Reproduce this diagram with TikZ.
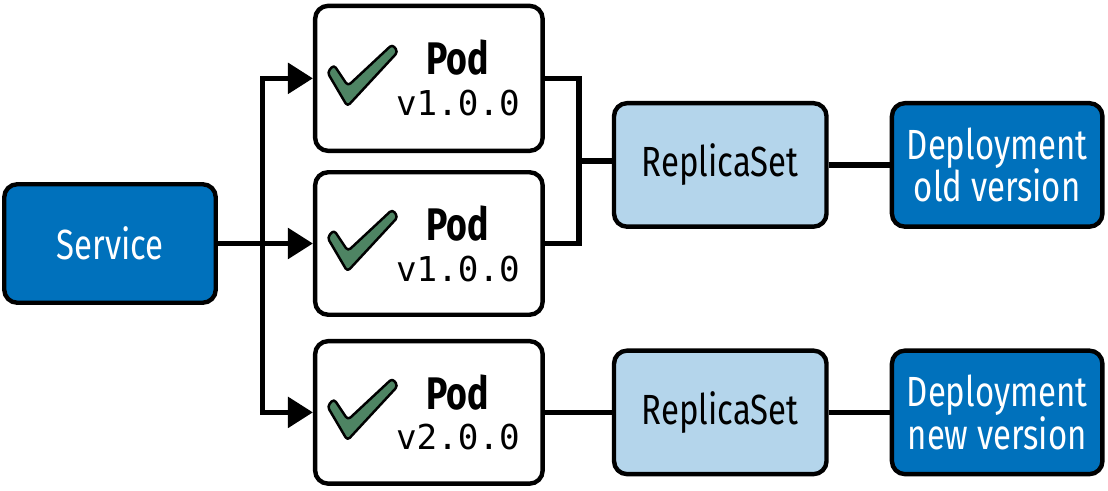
\documentclass[tikz,border=0pt]{standalone}
\usepackage{fontspec}
\setmainfont{Fira Sans}[FakeStretch=0.78]
\setmonofont{DejaVu Sans Mono}
\usepackage{tikz}
\usetikzlibrary{arrows.meta, positioning, calc}
\definecolor{deepblue}{HTML}{0071BC}
\definecolor{paleblue}{HTML}{B4D5EB}
\definecolor{tickgreen}{HTML}{4E8463}
\tikzset{
    basebox/.style={
        rectangle, rounded corners=0.26cm, draw=black,
        line width=2.5pt, align=center,
        font=\fontsize{24pt}{24pt}\selectfont
    },
    bluebox/.style={
        basebox, fill=deepblue, text=white,
        minimum width=4.21cm, minimum height=2.47cm
    },
    podbox/.style={
        basebox, fill=white,
        minimum width=4.55cm, minimum height=2.85cm
    },
    rsbox/.style={
        basebox, fill=paleblue,
        minimum width=4.25cm, minimum height=2.47cm
    },
    podlab/.style={
        align=center, inner sep=0pt,
        font=\fontsize{26pt}{23.3pt}\selectfont\bfseries
    },
    flow/.style={
        -{Triangle[length=0.5cm, width=0.6cm]}, line width=3.1pt
    },
    link/.style={
        line width=3.1pt
    },
    checkmark/.pic={
        \draw[fill=tickgreen, line width=1.4pt, line join=round, rounded corners=2pt]
            (-2.03,0.12) -- (-1.9,0.27) -- (-1.62,-0.15) -- (-0.73,0.68)
            -- (-0.62,0.53) -- (-1.63,-0.56) -- cycle;
    },
}

\begin{document}
\begin{tikzpicture}
    \useasboundingbox (0,0) rectangle (22.16,-9.82);

    % Service and pods
    \node[bluebox, minimum width=4.23cm, minimum height=2.37cm] (service) at (2.2,-4.87) {Service};
    \node[podbox, right=1.9cm of service] (podB) {};
    \node[podbox, above=0.34cm of podB, minimum height=2.9cm] (podA) {};
    \node[podbox, below=0.44cm of podB] (podC) {};

    \pic at (podA.center) {checkmark};
    \pic at (podB.center) {checkmark};
    \pic at (podC.center) {checkmark};

    \node[podlab] (podAtext) at ($(podA.center)+(0.58,0)$) {Pod\\{\mdseries\ttfamily\fontsize{19.5pt}{23.3pt}\selectfont v1.0.0}};
    \node[podlab] (podBtext) at ($(podB.center)+(0.58,0)$) {Pod\\{\mdseries\ttfamily\fontsize{19.5pt}{23.3pt}\selectfont v1.0.0}};
    \node[podlab] (podCtext) at ($(podC.center)+(0.58,0)$) {Pod\\{\mdseries\ttfamily\fontsize{19.5pt}{23.3pt}\selectfont v2.0.0}};

    % ReplicaSets and deployments
    \coordinate (merge) at ($(podA.east)!0.5!(podB.east)+(0.68,0)$);
    \node[rsbox, anchor=west] (rsOld) at ($(merge)+(0.66,-0.08)$) {ReplicaSet};
    \node[rsbox, right=1.34cm of podC] (rsNew) {ReplicaSet};
    \node[bluebox, right=1.22cm of rsOld] (depOld) {Deployment\\old version};
    \node[bluebox, right=1.22cm of rsNew] (depNew) {Deployment\\new version};

    % Service to pods
    \coordinate (split) at ($(service.east)!0.47!(podB.west)$);
    \draw[flow] (service) -- (podB);
    \draw[flow] (split) |- (podA);
    \draw[flow] (split) |- (podC);

    % Pods to replicasets
    \draw[link] (podA.east) -| (merge) |- (podB.east);
    \draw[link] (merge) -- (merge -| rsOld.west);
    \draw[link] (podC) -- (rsNew);

    % Replicasets to deployments
    \draw[link] (rsOld) -- (depOld);
    \draw[link] (rsNew) -- (depNew);

\end{tikzpicture}
\end{document}
